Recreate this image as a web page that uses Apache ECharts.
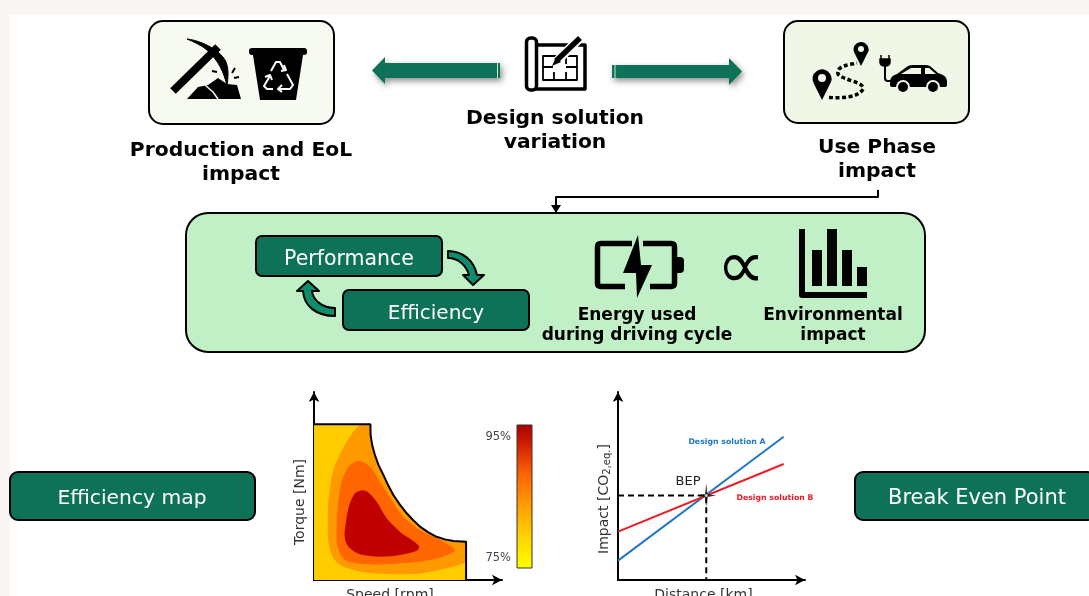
<!DOCTYPE html>
<html><head><meta charset="utf-8">
<style>html,body{margin:0;padding:0;background:#fff;overflow:hidden}#c{width:1089px;height:596px}</style>
<script src="https://cdn.jsdelivr.net/npm/echarts@6/dist/echarts.min.js"></script>
</head><body><div id="c"></div>
<script>
// Efficiency map (normalised speed / torque, 0..100)
var mapEnvelope=[[0,0],[0,82.8],[30,82.8],[30.1,77.1],[31,71.5],[32.4,66.5],[34.4,61],[36.9,55.9],[39.4,50.5],[42.2,45.2],[45.6,40.2],[49.3,35.5],[52.8,31.8],[56.4,28.4],[60.6,25.5],[65.2,23],[69.6,21.6],[74.1,20.7],[80.9,20.4],[80.9,0]];
var mapLevel85=[[24.5,82.8],[20.6,78.5],[17.4,73.6],[14,67.5],[11.2,61.2],[9.2,54],[8.2,47],[7.5,40],[7.3,32.8],[7.3,26],[7.6,20.4],[8.6,15.5],[10.3,11.5],[12.6,9],[15.6,7.1],[20.5,5.4],[26.2,4.1],[33,3.4],[40.4,3],[48,3],[56.4,3.5],[64,4.6],[70.6,6.2],[76,7.6],[80.9,9.4],[80.9,20.4],[74.1,20.7],[69.6,21.6],[65.2,23],[60.6,25.5],[56.4,28.4],[52.8,31.8],[49.3,35.5],[45.6,40.2],[42.2,45.2],[39.4,50.5],[36.9,55.9],[34.4,61],[32.4,66.5],[31,71.5],[30.1,77.1],[30,82.8]];
var mapLevel90=[[23.6,63.3],[18.3,60.3],[14.7,52.3],[12.9,41.7],[12.1,29.3],[12.4,18.6],[15.6,11.5],[22.7,8.9],[35.1,8.3],[52.8,9.4],[67,11.9],[75,15.6],[73.2,17.7],[65.2,22.2],[56.4,26.6],[47.5,33.7],[41.3,42.6],[35.1,52.3],[29.8,60.3]];
var mapLevel95=[[25.9,47.7],[21.8,46.1],[18.8,39.9],[17,31],[16.3,23],[18.3,17.7],[24.5,13.7],[35.1,12.4],[45.7,13.3],[54.6,15.6],[56,17.7],[52.8,20.7],[45.7,25.7],[38.7,32.8],[33.3,41.7],[28.9,46.6]];
// Break even chart (normalised distance / impact, 0..100)
var solutionA=[[0,10.3],[88.6,76.2]];
var solutionB=[[0,25.7],[88.6,61.7]];
var breakEven=[47.2,44.9];
var breakEvenGuide=[[0,44.9],[47.2,44.9],[47.2,0]];
var colourbarTicks=['95%','75%'];

var G='#0d7257',TEAL='#0e8c6b',BK='#000',FF='"DejaVu Sans",sans-serif';
var shapeCount=0;
function P(d,fill,stroke,lw,extra){
 var name='iconPath'+(shapeCount++);
 echarts.graphic.registerShape(name,echarts.graphic.extendPath(d,{}));
 var s={fill:fill||'none',stroke:stroke||'none',lineWidth:lw||0,lineJoin:'round'};
 for(var k in extra)s[k]=extra[k];
 return{type:name,style:s};
}
function R(x,y,w,h,r,fill,stroke,lw){return{type:'rect',shape:{x:x,y:y,width:w,height:h,r:r},style:{fill:fill,stroke:stroke||'none',lineWidth:lw||0}};}
function C(x,y,r,fill,stroke,lw){return{type:'circle',shape:{cx:x,cy:y,r:r},style:{fill:fill,stroke:stroke||'none',lineWidth:lw||0}};}
function T(x,y,t,size,weight,col,lh,align){return{type:'text',x:x,y:y,style:{text:t,fontFamily:FF,fontSize:size,fontWeight:weight||'normal',fill:col||'#000',align:align||'center',verticalAlign:'middle',lineHeight:lh||size*1.2}};}
var shadow={shadowBlur:6,shadowColor:'rgba(0,0,0,.45)',shadowOffsetX:2,shadowOffsetY:3};
var els=[
 R(10,15,1079,581,0,'#fff'),
 R(149,21,185,103,14,'#f7faf1',BK,2),
 R(784,21,185,102,14,'#f0f7e6',BK,2),
 T(241,163,'Production and EoL\nimpact',20.3,'bold','#000',24),
 T(555,131,'Design solution\nvariation',20.3,'bold','#000',24),
 T(877,160,'Use Phase\nimpact',20.3,'bold','#000',24),
 // arrows
 P('M500 63 H385 V57 L372 70.5 L385 84 V78 H500 Z',G,null,0,shadow),
 P('M612 65 H729 V58 L742 71.5 L729 85 V78 H612 Z',G,null,0,shadow),
 P('M497.5 63 V78 M615 65 V78',null,'#cfe5de',1),
 // pickaxe
 P('M173 91 L218 47',null,BK,8),
 P('M187 39 C204 41 222 52 226 62 C229 70 228 78 227 86 C224 72 218 60 207 50 C201 45 194 42 187 39 Z',BK,BK,1),
 P('M187 99 L198 87 L208 85 L218 78 L227 84 L237 85 L241 99 Z',BK),
 P('M205 85 L213 92 L218 99',null,'#f7faf1',1.5),
 P('M232 73 L235 68 M234 78 L239 77 M212 71 L217 72',null,BK,2),
 // bin
 R(249,48,58,7,3,BK),
 P('M253 55 H303 L296 100 H260 Z',BK),
 P('M271 71 L276 62 L280 62 L284 70 M281 71 L286 70 L284 65',null,'#fff',2),
 P('M270 76 L264 86 L267 89 L273 89 M265 77 L270 75 L272 80',null,'#fff',2),
 P('M287 74 L293 85 L290 89 L279 89 M282 85 L278 89 L282 92',null,'#fff',2),
 // blueprint
 P('M536 45 H585 V89 H532',null,BK,3.5),
 R(526.5,38,10,52,4,'#fff',BK,3.5),
 P('M543 56 H577 V80 H543 Z M543 67 H553 M556 56 V64 M566 56 V64 M566 67 H577 M554 72 V80 M566 72 V80',null,BK,1.8),
 P('M553 65 L579 39',null,'#fff',9),
 P('M556 61 L580 38',null,BK,5.5),
 P('M552 66 L556 57 L561 62 Z',BK),
 // pins, route, car
 P('M822 100 L814 84 A9.5 9.5 0 1 1 830 84 Z',BK),
 C(822,78,4,'#f0f7e6'),
 P('M861 66 L855 54 A7.5 7.5 0 1 1 867 54 Z',BK),
 C(861,49,3,'#f0f7e6'),
 P('M829 97.5 C842 98 858 98 863 89 C865 82 842 80 838 74 C836 66 848 65 857 63',null,BK,3.5,{lineDash:[4,2.5]}),
 P('M885 65 V78 Q885 81 888 81 H893',null,BK,2),
 P('M881 55 V59 M889 55 V59 M880 59 H890 V62 Q890 66 885 66 Q880 66 880 62 Z',BK,BK,1.5),
 P('M890 82 Q890 76 897 74 L908 66 Q910 65 913 65 L925 65 Q928 65 930 66 L938 73 L943 75 Q947 77 947 82 L947 85 Q947 87 944 87 L892 87 Q890 87 890 85 Z',BK),
 P('M901 74 L911 68 L921 68 L921 74 Z M925 68 L929 68 L936 74 L925 74 Z','#f0f7e6'),
 C(903,87,6,BK,'#f0f7e6',2), C(933,87,6,BK,'#f0f7e6',2),
 // connector
 P('M878 190 V197 H556 V206',null,BK,2),
 P('M551 205 H561 L556 213 Z',BK),
 // central panel
 R(186,213,739,139,22,'#c1f0c7',BK,2),
 R(256,236,186,40,6,G,BK,2),
 R(343,290,186,40,6,G,BK,2),
 T(349,260,'Performance',20.5,'normal','#fff'),
 T(436,314,'Efficiency',20,'normal','#fff'),
 P('M448 251 C462 251 474 260 477 275 L484 275 L473 285 L463 275 L469 275 C466 265 458 258 448 258 Z',TEAL,BK,2),
 P('M308 281 L319 291 L312 291 C313 300 322 308 335 308 L335 316 C316 316 304 306 303 291 L297 291 Z',TEAL,BK,2),
 // battery
 P('M632 243.5 H601 Q597.5 243.5 597.5 247 V283 Q597.5 286.5 601 286.5 H625',null,BK,5.5),
 P('M643 243.5 H671 Q674.5 243.5 674.5 247 V283 Q674.5 286.5 671 286.5 H650',null,BK,5.5),
 P('M677 257 H680 Q684 257 684 261 V269 Q684 273 680 273 H677 Z',BK),
 P('M638 235 L623 273 L636 273 L637 298 L652 265 L641 265 Z',BK),
 T(741,270,'\u221D',68,'normal','#000'),
 // environmental bars icon
 P('M802 229 V295 H867',null,BK,6),
 R(812,250,10,36,0,BK),R(827,229,10,57,0,BK),R(842,250,10,36,0,BK),R(857,267,10,19,0,BK),
 T(637,326,'Energy used\nduring driving cycle',17,'bold','#000',20),
 T(833,326,'Environmental\nimpact',17,'bold','#000',20),
 // side labels
 R(10,472,245,48,8,G,BK,2),
 T(132,499,'Efficiency map',20.3,'normal','#fff'),
 R(855,472,240,48,8,G,BK,2),
 T(977,499,'Break Even Point',21,'normal','#fff'),
 // colour bar
 {type:'rect',shape:{x:517,y:425,width:15,height:143},style:{stroke:'#333',lineWidth:1,fill:{type:'linear',x:0,y:0,x2:0,y2:1,colorStops:[{offset:0,color:'#a80000'},{offset:.12,color:'#cc1a00'},{offset:.35,color:'#ff6600'},{offset:.55,color:'#ff9900'},{offset:.75,color:'#ffcc00'},{offset:1,color:'#ffff00'}]}}},
 T(511,437,colourbarTicks[0],11.5,'normal','#444',14,'right'),
 T(511,558,colourbarTicks[1],11.5,'normal','#444',14,'right'),
 // line labels
 T(688,482,'BEP',13,'normal','#222'),
 T(727,442,'Design solution A',7.8,'bold','#1f78c8'),
 T(775,498,'Design solution B',7.8,'bold','#ee1c25')
];

function axisLine(){return{show:true,onZero:false,symbol:['none','arrow'],symbolSize:[8,10],lineStyle:{color:'#000',width:2}};}
function axis(idx,name,pad,extraRich,gap){return{type:'value',gridIndex:idx,min:0,max:100,name:name,nameLocation:'middle',nameGap:gap,
 nameTextStyle:{fontFamily:FF,fontSize:14,color:'#333',padding:pad,rich:extraRich||{}},
 axisLine:axisLine(),axisTick:{show:false},axisLabel:{show:false},splitLine:{show:false}};}
var contours=[mapEnvelope,mapLevel85,mapLevel90,mapLevel95];
var contourColours=['#ffcc00','#ff9900','#ff6600','#c00000'];
var contourSmooth=[0,0,0.3,0.3];
var star='path://M50 0 L56 44 L100 50 L56 56 L50 100 L44 56 L0 50 L44 44 Z';
var sub={base:{fontFamily:FF,fontSize:14,color:'#333'},sub:{fontFamily:FF,fontSize:10,color:'#333',verticalAlign:'bottom',padding:[6,0,0,0]}};
var chart=echarts.init(document.getElementById('c'));
chart.setOption({
 animation:false,
 backgroundColor:'#faf6f3',
 graphic:{elements:els},
 grid:[{left:314,top:392,width:188,height:188,outerBoundsMode:'none'},{left:618,top:392,width:187,height:188,outerBoundsMode:'none'}],
 xAxis:[axis(0,'Speed [rpm]',[0,36,0,0],null,8),axis(1,'Distance [km]',[0,16,0,0],null,8)],
 yAxis:[axis(0,'Torque [Nm]',[0,32,0,0],null,7),axis(1,'{base|Impact [CO}{sub|2,eq.}{base|]}',[0,26,0,0],sub,6)],
 series:[
  {type:'custom',xAxisIndex:0,yAxisIndex:0,coordinateSystem:'cartesian2d',silent:true,clip:false,
   data:[[0,0],[0,1],[0,2],[0,3]],encode:{x:0,y:1},
   renderItem:function(p,api){var i=p.dataIndex;return{type:'polygon',shape:{points:contours[i].map(function(c){return api.coord(c);}),smooth:contourSmooth[i]},style:{fill:contourColours[i]}};}},
  {type:'line',xAxisIndex:0,yAxisIndex:0,data:mapEnvelope.slice(1),showSymbol:false,silent:true,lineStyle:{color:'#000',width:2},z:3},
  {type:'line',xAxisIndex:1,yAxisIndex:1,data:breakEvenGuide,showSymbol:false,silent:true,lineStyle:{color:'#000',width:2,type:[6,4]},z:3},
  {type:'line',xAxisIndex:1,yAxisIndex:1,data:solutionA,showSymbol:false,silent:true,lineStyle:{color:'#1f78c8',width:2},z:4},
  {type:'line',xAxisIndex:1,yAxisIndex:1,data:solutionB,showSymbol:false,silent:true,lineStyle:{color:'#ee1c25',width:2},z:4},
  {type:'scatter',xAxisIndex:1,yAxisIndex:1,data:[breakEven],symbol:star,symbolSize:[20,24],silent:true,itemStyle:{color:'#000'},z:5},
  {type:'scatter',xAxisIndex:1,yAxisIndex:1,data:[breakEven],symbol:'circle',symbolSize:3,silent:true,itemStyle:{color:'#fff'},z:6}
 ]
});
</script></body></html>
